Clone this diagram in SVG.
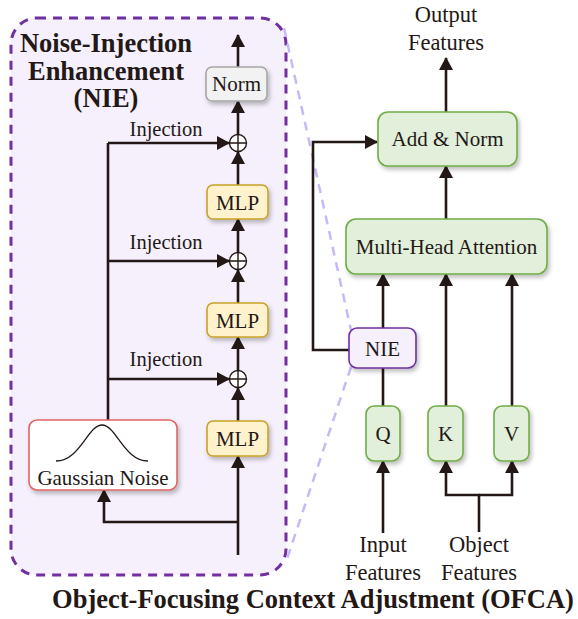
<svg xmlns="http://www.w3.org/2000/svg" width="578" height="619" viewBox="0 0 578 619">
<style>
text{font-family:"Liberation Serif","Times New Roman",serif;fill:#231815}
.lbl{font-size:21px;text-anchor:middle}
.ft{font-size:22.5px;text-anchor:middle}
.inj{font-size:20.5px;text-anchor:middle}
.bold{font-weight:bold;font-size:26.5px;text-anchor:middle}
.ln{fill:none;stroke:#231815;stroke-width:2.6}
.arr{fill:none;stroke:#231815;stroke-width:2.6;marker-end:url(#ah)}
.green{fill:#e2efda;stroke:#70ad47;stroke-width:1.6;filter:url(#sh)}
.mlp{fill:#fff2cc;stroke:#c9a227;stroke-width:1.6;filter:url(#sh)}
.plus{fill:#fff;stroke:#231815;stroke-width:1.4}
</style>
<defs>
<marker id="ah" viewBox="0 0 13 14" refX="12" refY="7" markerWidth="13" markerHeight="14" markerUnits="userSpaceOnUse" orient="auto">
<path d="M0,0 L13,7 L0,14 z" fill="#231815"/>
</marker>
<filter id="sh" x="-20%" y="-20%" width="150%" height="160%">
<feDropShadow dx="2" dy="3" stdDeviation="2" flood-color="#000" flood-opacity="0.25"/>
</filter>
</defs>

<g id="nie-panel">
<rect x="11" y="18" width="275" height="557" rx="26" fill="#f5f0fc" stroke="#7030a0" stroke-width="3" stroke-dasharray="9 7"/>
<text class="bold" x="106" y="52">Noise-Injection</text>
<text class="bold" x="106" y="80">Enhancement</text>
<text class="bold" x="106" y="107">(NIE)</text>
</g>

<g id="zoom-lines" stroke="#c8b8f8" stroke-width="2.5" stroke-dasharray="9 7" fill="none">
<line x1="284" y1="28" x2="351" y2="330"/>
<line x1="351" y1="367" x2="286" y2="562"/>
</g>

<g id="connectors">
<line class="arr" x1="238" y1="67" x2="238" y2="35"/>
<line class="arr" x1="238" y1="134" x2="238" y2="101"/>
<line class="arr" x1="238" y1="185" x2="238" y2="152"/>
<line class="arr" x1="238" y1="252" x2="238" y2="219"/>
<line class="arr" x1="238" y1="303" x2="238" y2="270"/>
<line class="arr" x1="238" y1="370" x2="238" y2="337"/>
<line class="arr" x1="238" y1="421" x2="238" y2="388"/>
<line class="arr" x1="238" y1="555" x2="238" y2="456"/>
<polyline class="arr" points="238,522 104,522 104,490"/>
<polyline class="ln" points="108,420 108,143"/>
<line class="arr" x1="108" y1="143" x2="229" y2="143"/>
<line class="arr" x1="108" y1="261" x2="229" y2="261"/>
<line class="arr" x1="108" y1="379" x2="229" y2="379"/>
<line class="arr" x1="446" y1="112" x2="446" y2="58"/>
<line class="arr" x1="446" y1="219" x2="446" y2="166"/>
<polyline class="arr" points="349,350 313,350 313,142 377,142"/>
<line class="ln" x1="383" y1="406" x2="383" y2="368"/>
<line class="arr" x1="383" y1="328" x2="383" y2="274"/>
<line class="arr" x1="446" y1="406" x2="446" y2="274"/>
<line class="arr" x1="512" y1="406" x2="512" y2="274"/>
<line class="arr" x1="383" y1="533" x2="383" y2="461"/>
<polyline class="arr" points="479,532 479,495 446,495 446,461"/>
<polyline class="arr" points="479,495 512,495 512,461"/>
</g>

<g id="norm">
<rect x="206" y="67" width="61" height="34" rx="6" fill="#f2f2f2" stroke="#a6a6a6" stroke-width="1.6" filter="url(#sh)"/>
<text class="lbl" x="236.5" y="91">Norm</text>
</g>
<g id="oplus1"><circle class="plus" cx="238" cy="143" r="8.5"/><path class="ln" style="stroke-width:1.4" d="M229.5,143H246.5M238,134.5V151.5"/></g>
<g id="oplus2"><circle class="plus" cx="238" cy="261" r="8.5"/><path class="ln" style="stroke-width:1.4" d="M229.5,261H246.5M238,252.5V269.5"/></g>
<g id="oplus3"><circle class="plus" cx="238" cy="379" r="8.5"/><path class="ln" style="stroke-width:1.4" d="M229.5,379H246.5M238,370.5V387.5"/></g>
<g id="mlp1"><rect class="mlp" x="207" y="185" width="61" height="34" rx="6"/><text class="lbl" x="237.5" y="209.5">MLP</text></g>
<g id="mlp2"><rect class="mlp" x="207" y="303" width="61" height="34" rx="6"/><text class="lbl" x="237.5" y="327.5">MLP</text></g>
<g id="mlp3"><rect class="mlp" x="207" y="421" width="61" height="35" rx="6"/><text class="lbl" x="237.5" y="446">MLP</text></g>
<g id="inj-labels">
<text class="inj" x="166" y="136">Injection</text>
<text class="inj" x="166" y="249">Injection</text>
<text class="inj" x="166" y="366">Injection</text>
</g>
<g id="gaussian">
<rect x="29" y="420" width="148" height="70" rx="8" fill="#fff" stroke="#e06666" stroke-width="1.6" filter="url(#sh)"/>
<path d="M56,461 C80,461 88,425 102,425 C116,425 124,461 148,461" fill="none" stroke="#231815" stroke-width="1.3"/>
<text class="lbl" x="103" y="485">Gaussian Noise</text>
</g>

<g id="output-label">
<text class="ft" x="446" y="22">Output</text>
<text class="ft" x="446" y="50">Features</text>
</g>
<g id="add-norm"><rect class="green" x="378" y="112" width="139" height="54" rx="10"/><text class="lbl" x="447.5" y="146">Add &amp; Norm</text></g>
<g id="mha"><rect class="green" x="346" y="219" width="201" height="55" rx="10"/><text class="lbl" x="446.5" y="254">Multi-Head Attention</text></g>
<g id="nie"><rect x="349" y="328" width="67" height="40" rx="8" fill="#f5f0fc" stroke="#7030a0" stroke-width="1.6" filter="url(#sh)"/><text class="lbl" x="382.5" y="355.5">NIE</text></g>
<g id="q"><rect class="green" x="366" y="406" width="34" height="55" rx="8"/><text class="lbl" x="383" y="441">Q</text></g>
<g id="k"><rect class="green" x="428" y="406" width="35" height="55" rx="8"/><text class="lbl" x="445.5" y="441">K</text></g>
<g id="v"><rect class="green" x="494" y="406" width="35" height="55" rx="8"/><text class="lbl" x="511.5" y="441">V</text></g>
<g id="input-label">
<text class="ft" x="383" y="552">Input</text>
<text class="ft" x="383" y="580">Features</text>
</g>
<g id="object-label">
<text class="ft" x="479" y="552">Object</text>
<text class="ft" x="479" y="580">Features</text>
</g>
<text class="bold" x="313" y="608">Object-Focusing Context Adjustment (OFCA)</text>
</svg>
